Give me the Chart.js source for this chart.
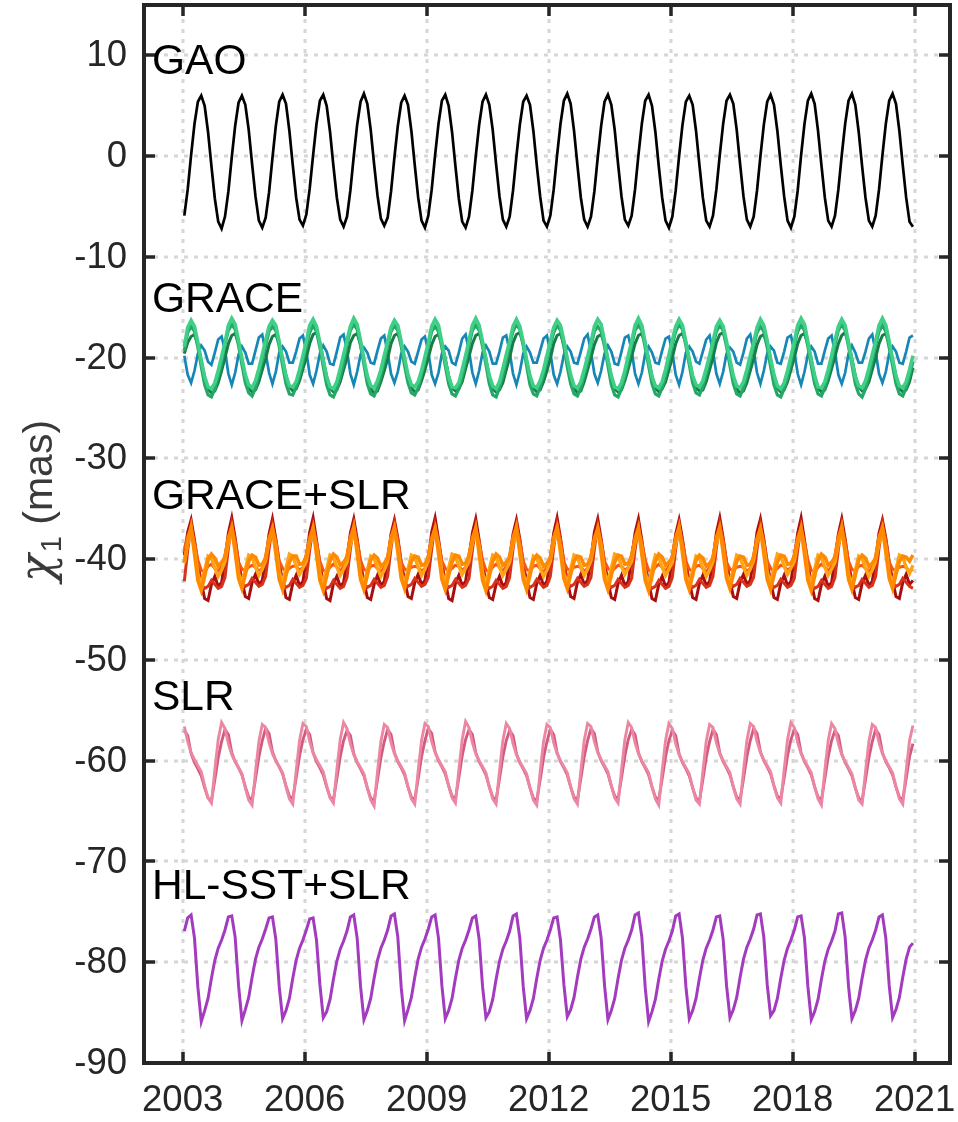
<!DOCTYPE html>
<html>
<head>
<meta charset="utf-8">
<script src="https://cdn.jsdelivr.net/npm/chart.js@4.4.1/dist/chart.umd.min.js"></script>
<style>
  html, body { margin: 0; padding: 0; background: #fff; }
  #wrap { width: 958px; height: 1122px; }
</style>
</head>
<body>
<div id="wrap"><canvas id="chi1" width="958" height="1122"></canvas></div>
<script>
// monthly values, one row per year (Jan..Dec), mas
var sampleYears = [2003, 2004, 2005, 2006, 2007, 2008, 2009, 2010, 2011, 2012,
                   2013, 2014, 2015, 2016, 2017, 2018, 2019, 2020];
var xTicks = [2003, 2006, 2009, 2012, 2015, 2018, 2021];
var yTicks = [-90, -80, -70, -60, -50, -40, -30, -20, -10, 0, 10];
var groupNames = ['GAO', 'GRACE', 'GRACE+SLR', 'SLR', 'HL-SST+SLR'];
var groupLabelY = [9.3, -14.3, -33.9, -53.8, -72.6];

var gao = [
  -5.9, -3.3, 0.1, 3.2, 5.4, 6.0, 5.0, 2.4, -1.0, -4.2, -6.5, -7.2,
  -6.0, -3.5, -0.1, 3.0, 5.3, 6.0, 5.1, 2.6, -0.8, -4.0, -6.4, -7.1,
  -6.1, -3.6, -0.2, 3.0, 5.4, 6.1, 5.2, 2.5, -0.9, -4.1, -6.3, -6.9,
  -5.8, -3.2, 0.1, 3.2, 5.5, 6.1, 5.0, 2.4, -1.0, -4.1, -6.3, -7.0,
  -6.0, -3.4, 0.0, 3.1, 5.4, 6.2, 5.2, 2.6, -0.8, -3.9, -6.2, -6.9,
  -6.1, -3.5, -0.1, 3.0, 5.3, 6.0, 5.1, 2.5, -0.9, -4.1, -6.4, -7.1,
  -5.9, -3.3, 0.1, 3.2, 5.5, 6.1, 5.0, 2.4, -1.0, -4.2, -6.5, -7.1,
  -6.0, -3.4, 0.0, 3.1, 5.4, 6.1, 5.1, 2.6, -0.8, -4.0, -6.3, -7.0,
  -6.0, -3.4, 0.0, 3.1, 5.4, 6.0, 5.1, 2.5, -0.9, -4.0, -6.4, -7.0,
  -5.9, -3.3, 0.1, 3.2, 5.5, 6.2, 5.2, 2.5, -0.9, -4.1, -6.3, -7.0,
  -6.0, -3.5, -0.1, 3.0, 5.4, 6.1, 5.1, 2.6, -0.8, -4.0, -6.3, -6.9,
  -5.9, -3.3, 0.1, 3.2, 5.5, 6.1, 5.0, 2.4, -1.0, -4.1, -6.4, -7.1,
  -6.0, -3.4, 0.0, 3.1, 5.4, 6.0, 5.1, 2.5, -0.9, -4.1, -6.4, -7.0,
  -5.9, -3.3, 0.1, 3.2, 5.5, 6.1, 5.2, 2.6, -0.8, -4.0, -6.3, -7.0,
  -6.0, -3.4, 0.0, 3.1, 5.4, 6.1, 5.1, 2.5, -0.9, -4.0, -6.4, -7.1,
  -6.0, -3.4, 0.1, 3.2, 5.5, 6.2, 5.2, 2.5, -0.9, -4.1, -6.4, -7.0,
  -5.9, -3.3, 0.1, 3.2, 5.5, 6.2, 5.1, 2.4, -1.0, -4.1, -6.4, -7.0,
  -5.9, -3.3, 0.1, 3.2, 5.5, 6.2, 5.2, 2.5, -0.9, -4.1, -6.5, -7.0
];

var graceBlue = [
  -19.8, -21.7, -22.5, -21.3, -19.6, -18.8, -19.3, -20.4, -20.7, -19.5, -18.2, -17.9,
  -19.3, -21.6, -22.7, -21.5, -19.7, -18.9, -19.5, -20.6, -20.6, -19.3, -18.0, -17.7,
  -19.5, -21.5, -22.6, -21.4, -19.5, -18.9, -19.4, -20.5, -20.5, -19.4, -18.1, -17.8,
  -19.4, -21.7, -22.6, -21.3, -19.6, -18.8, -19.4, -20.6, -20.7, -19.4, -18.0, -17.7,
  -19.3, -21.6, -22.7, -21.4, -19.7, -19.0, -19.5, -20.5, -20.6, -19.3, -18.1, -17.8,
  -19.5, -21.6, -22.5, -21.4, -19.6, -18.9, -19.4, -20.4, -20.6, -19.4, -18.2, -17.9,
  -19.4, -21.7, -22.6, -21.5, -19.6, -18.9, -19.3, -20.5, -20.7, -19.5, -18.1, -17.7,
  -19.3, -21.5, -22.6, -21.3, -19.5, -18.8, -19.4, -20.6, -20.6, -19.4, -18.0, -17.8,
  -19.4, -21.6, -22.7, -21.4, -19.6, -18.9, -19.5, -20.5, -20.5, -19.3, -18.1, -17.8,
  -19.5, -21.7, -22.6, -21.4, -19.7, -18.9, -19.4, -20.5, -20.6, -19.4, -18.1, -17.7,
  -19.4, -21.6, -22.5, -21.3, -19.6, -18.8, -19.4, -20.6, -20.7, -19.4, -18.0, -17.8,
  -19.3, -21.6, -22.6, -21.5, -19.6, -18.9, -19.5, -20.5, -20.6, -19.3, -18.1, -17.9,
  -19.5, -21.7, -22.7, -21.4, -19.5, -18.9, -19.4, -20.4, -20.6, -19.4, -18.2, -17.8,
  -19.4, -21.6, -22.6, -21.4, -19.6, -19.0, -19.4, -20.5, -20.7, -19.5, -18.1, -17.7,
  -19.3, -21.5, -22.6, -21.3, -19.6, -18.9, -19.3, -20.5, -20.6, -19.4, -18.0, -17.8,
  -19.4, -21.6, -22.7, -21.4, -19.7, -18.9, -19.4, -20.6, -20.6, -19.3, -18.1, -17.8,
  -19.5, -21.7, -22.6, -21.5, -19.6, -18.8, -19.5, -20.5, -20.5, -19.4, -18.1, -17.7,
  -19.4, -21.6, -22.5, -21.4, -19.6, -18.9, -19.4, -20.5, -20.6, -19.4, -18.0, -17.8
];

var graceGreenLight = [
  -18.9, -17.0, -16.3, -16.9, -18.5, -20.3, -21.9, -22.9, -23.1, -22.5, -21.3, -19.9,
  -18.5, -16.8, -16.1, -16.7, -18.3, -20.1, -21.7, -22.7, -23.0, -22.3, -21.1, -19.7,
  -18.3, -16.9, -16.3, -16.8, -18.4, -20.2, -21.8, -22.8, -22.9, -22.4, -21.2, -19.8,
  -18.4, -16.8, -16.2, -16.9, -18.5, -20.3, -21.9, -22.9, -23.1, -22.4, -21.1, -19.7,
  -18.3, -16.9, -16.1, -16.7, -18.3, -20.2, -21.8, -22.8, -23.0, -22.3, -21.2, -19.8,
  -18.4, -17.0, -16.3, -16.8, -18.4, -20.1, -21.7, -22.7, -22.9, -22.4, -21.3, -19.9,
  -18.5, -16.9, -16.2, -16.8, -18.5, -20.3, -21.9, -22.9, -23.0, -22.5, -21.2, -19.8,
  -18.3, -16.8, -16.1, -16.8, -18.4, -20.2, -21.8, -22.8, -23.1, -22.4, -21.1, -19.7,
  -18.4, -16.9, -16.2, -16.9, -18.4, -20.2, -21.8, -22.8, -23.0, -22.3, -21.2, -19.8,
  -18.4, -17.0, -16.3, -16.8, -18.3, -20.1, -21.7, -22.8, -23.0, -22.4, -21.2, -19.9,
  -18.5, -16.9, -16.2, -16.7, -18.4, -20.2, -21.8, -22.9, -23.1, -22.5, -21.3, -19.8,
  -18.4, -16.8, -16.1, -16.8, -18.5, -20.3, -21.9, -22.8, -23.0, -22.4, -21.2, -19.7,
  -18.3, -16.9, -16.2, -16.8, -18.4, -20.2, -21.8, -22.7, -22.9, -22.3, -21.1, -19.8,
  -18.4, -16.9, -16.3, -16.9, -18.4, -20.2, -21.8, -22.8, -23.0, -22.4, -21.2, -19.8,
  -18.5, -17.0, -16.2, -16.8, -18.3, -20.1, -21.7, -22.8, -23.1, -22.5, -21.3, -19.9,
  -18.4, -16.8, -16.1, -16.7, -18.4, -20.2, -21.8, -22.9, -23.0, -22.4, -21.2, -19.8,
  -18.3, -16.9, -16.2, -16.8, -18.5, -20.3, -21.9, -22.8, -23.0, -22.3, -21.1, -19.7,
  -18.4, -16.8, -16.1, -16.8, -18.4, -20.2, -21.8, -22.8, -23.0, -22.4, -21.2, -19.8
];

var graceGreenMid = [
  -19.3, -17.5, -16.9, -17.4, -19.0, -20.9, -22.7, -23.7, -23.9, -23.1, -21.9, -20.5,
  -18.7, -17.3, -16.7, -17.2, -18.8, -20.7, -22.5, -23.5, -23.8, -23.0, -21.7, -20.3,
  -18.8, -17.4, -16.9, -17.3, -18.9, -20.8, -22.6, -23.6, -23.7, -22.9, -21.8, -20.4,
  -18.9, -17.5, -16.8, -17.4, -19.0, -20.9, -22.7, -23.7, -23.9, -23.1, -21.9, -20.5,
  -18.7, -17.3, -16.7, -17.2, -18.8, -20.7, -22.6, -23.6, -23.8, -23.0, -21.8, -20.4,
  -18.8, -17.4, -16.8, -17.3, -18.9, -20.8, -22.5, -23.5, -23.7, -23.0, -21.7, -20.3,
  -18.9, -17.4, -16.9, -17.4, -19.0, -20.8, -22.6, -23.6, -23.8, -23.1, -21.9, -20.4,
  -18.8, -17.3, -16.8, -17.3, -18.9, -20.7, -22.6, -23.7, -23.9, -23.0, -21.8, -20.4,
  -18.7, -17.4, -16.7, -17.2, -18.8, -20.8, -22.7, -23.6, -23.8, -22.9, -21.7, -20.3,
  -18.8, -17.5, -16.8, -17.3, -18.9, -20.9, -22.6, -23.6, -23.8, -23.0, -21.8, -20.5,
  -18.9, -17.4, -16.9, -17.4, -18.9, -20.8, -22.7, -23.7, -23.9, -23.1, -21.9, -20.4,
  -18.8, -17.3, -16.8, -17.3, -19.0, -20.8, -22.6, -23.6, -23.8, -23.0, -21.8, -20.4,
  -18.7, -17.4, -16.7, -17.2, -18.8, -20.7, -22.5, -23.5, -23.7, -22.9, -21.7, -20.3,
  -18.8, -17.4, -16.8, -17.3, -18.9, -20.8, -22.6, -23.6, -23.8, -23.0, -21.8, -20.4,
  -18.9, -17.5, -16.9, -17.4, -19.0, -20.9, -22.7, -23.7, -23.9, -23.1, -21.9, -20.5,
  -18.8, -17.4, -16.8, -17.3, -18.9, -20.8, -22.6, -23.6, -23.8, -23.0, -21.8, -20.4,
  -18.7, -17.3, -16.7, -17.3, -18.9, -20.7, -22.6, -23.6, -23.9, -23.1, -21.8, -20.3,
  -18.8, -17.4, -16.8, -17.4, -19.0, -20.8, -22.6, -23.6, -23.8, -23.0, -21.8, -20.4
];

var graceGreenDark = [
  -19.6, -18.5, -17.9, -17.7, -18.7, -20.3, -22.0, -23.1, -23.5, -23.3, -22.5, -21.3,
  -20.0, -18.6, -17.8, -17.6, -18.6, -20.2, -21.9, -23.0, -23.4, -23.2, -22.4, -21.2,
  -20.1, -18.7, -17.9, -17.7, -18.6, -20.1, -21.8, -22.9, -23.3, -23.1, -22.3, -21.1,
  -20.0, -18.6, -17.7, -17.5, -18.5, -20.2, -21.9, -23.0, -23.4, -23.2, -22.4, -21.2,
  -20.0, -18.5, -17.8, -17.6, -18.7, -20.3, -22.0, -23.1, -23.5, -23.3, -22.4, -21.3,
  -20.1, -18.6, -17.8, -17.6, -18.6, -20.2, -21.9, -23.0, -23.4, -23.2, -22.3, -21.2,
  -20.0, -18.7, -17.9, -17.7, -18.6, -20.1, -21.8, -23.0, -23.3, -23.1, -22.4, -21.1,
  -19.9, -18.6, -17.8, -17.6, -18.5, -20.2, -21.9, -23.1, -23.4, -23.2, -22.5, -21.2,
  -20.0, -18.5, -17.7, -17.5, -18.6, -20.3, -22.0, -23.0, -23.4, -23.2, -22.4, -21.3,
  -20.1, -18.6, -17.8, -17.6, -18.7, -20.2, -21.9, -23.0, -23.5, -23.3, -22.4, -21.2,
  -20.0, -18.7, -17.9, -17.7, -18.6, -20.2, -21.9, -23.1, -23.4, -23.2, -22.3, -21.1,
  -19.9, -18.6, -17.8, -17.6, -18.6, -20.1, -21.8, -23.0, -23.4, -23.1, -22.4, -21.2,
  -20.0, -18.6, -17.8, -17.6, -18.5, -20.2, -21.9, -23.0, -23.3, -23.2, -22.4, -21.2,
  -20.0, -18.5, -17.7, -17.5, -18.6, -20.3, -22.0, -23.1, -23.5, -23.3, -22.5, -21.3,
  -20.1, -18.7, -17.9, -17.7, -18.7, -20.2, -21.9, -23.0, -23.4, -23.2, -22.4, -21.2,
  -20.0, -18.6, -17.8, -17.6, -18.6, -20.2, -21.9, -23.0, -23.4, -23.2, -22.3, -21.1,
  -19.9, -18.6, -17.8, -17.5, -18.5, -20.1, -21.8, -22.9, -23.3, -23.1, -22.4, -21.2,
  -20.0, -18.6, -17.8, -17.6, -18.6, -20.2, -21.9, -23.0, -23.4, -23.2, -22.4, -21.0
];

var gslrDarkRed = [
  -39.6, -37.3, -36.1, -38.1, -40.5, -42.3, -43.9, -44.1, -42.5, -41.7, -42.7, -42.3,
  -40.0, -37.4, -35.9, -37.9, -40.3, -42.1, -43.7, -43.9, -42.3, -41.5, -42.5, -42.1,
  -40.1, -37.5, -36.0, -38.0, -40.4, -42.2, -43.8, -44.0, -42.4, -41.6, -42.6, -42.2,
  -39.9, -37.3, -35.9, -38.1, -40.5, -42.3, -43.9, -44.1, -42.4, -41.7, -42.7, -42.3,
  -40.0, -37.4, -36.0, -38.0, -40.4, -42.2, -43.8, -44.0, -42.5, -41.6, -42.6, -42.2,
  -40.1, -37.5, -36.1, -37.9, -40.3, -42.1, -43.7, -43.9, -42.3, -41.5, -42.5, -42.1,
  -40.0, -37.3, -35.9, -38.0, -40.4, -42.2, -43.9, -44.1, -42.4, -41.6, -42.6, -42.2,
  -39.9, -37.4, -36.0, -38.1, -40.5, -42.3, -43.8, -44.0, -42.5, -41.7, -42.7, -42.3,
  -40.0, -37.5, -36.1, -38.0, -40.4, -42.2, -43.8, -44.0, -42.4, -41.6, -42.6, -42.2,
  -40.1, -37.4, -35.9, -37.9, -40.3, -42.1, -43.7, -43.9, -42.3, -41.5, -42.5, -42.1,
  -40.0, -37.3, -36.0, -38.0, -40.4, -42.2, -43.8, -44.0, -42.4, -41.6, -42.6, -42.2,
  -39.9, -37.4, -36.0, -38.1, -40.5, -42.3, -43.9, -44.1, -42.5, -41.7, -42.7, -42.3,
  -40.0, -37.5, -36.1, -38.0, -40.4, -42.2, -43.8, -44.0, -42.4, -41.6, -42.6, -42.2,
  -40.1, -37.4, -35.9, -37.9, -40.3, -42.1, -43.7, -43.9, -42.3, -41.5, -42.5, -42.1,
  -40.0, -37.3, -36.0, -38.0, -40.4, -42.2, -43.8, -44.0, -42.4, -41.6, -42.6, -42.2,
  -39.9, -37.4, -35.9, -38.1, -40.5, -42.3, -43.9, -44.1, -42.5, -41.7, -42.7, -42.3,
  -40.0, -37.5, -36.0, -38.0, -40.4, -42.2, -43.8, -44.0, -42.4, -41.6, -42.6, -42.2,
  -40.1, -37.4, -36.1, -37.9, -40.3, -42.1, -43.7, -43.9, -42.3, -41.5, -42.5, -42.1
];

var gslrRed = [
  -42.2, -39.1, -36.7, -38.5, -40.9, -42.5, -42.9, -42.7, -42.1, -42.5, -42.9, -42.7,
  -41.8, -38.9, -36.5, -38.3, -40.7, -42.3, -42.7, -42.5, -41.9, -42.3, -42.7, -42.5,
  -41.7, -39.0, -36.6, -38.4, -40.8, -42.4, -42.8, -42.6, -42.0, -42.4, -42.8, -42.6,
  -41.9, -39.1, -36.7, -38.5, -40.9, -42.5, -42.9, -42.7, -42.1, -42.5, -42.9, -42.7,
  -41.8, -39.0, -36.6, -38.4, -40.8, -42.4, -42.8, -42.6, -42.0, -42.4, -42.8, -42.6,
  -41.7, -38.9, -36.5, -38.3, -40.7, -42.3, -42.7, -42.5, -41.9, -42.3, -42.7, -42.5,
  -41.8, -39.0, -36.6, -38.4, -40.8, -42.4, -42.8, -42.6, -42.0, -42.4, -42.8, -42.6,
  -41.9, -39.1, -36.7, -38.5, -40.9, -42.5, -42.9, -42.7, -42.1, -42.5, -42.9, -42.7,
  -41.8, -39.0, -36.6, -38.4, -40.8, -42.4, -42.8, -42.6, -42.0, -42.4, -42.8, -42.6,
  -41.7, -38.9, -36.5, -38.3, -40.7, -42.3, -42.7, -42.5, -41.9, -42.3, -42.7, -42.5,
  -41.8, -39.0, -36.6, -38.4, -40.8, -42.4, -42.8, -42.6, -42.0, -42.4, -42.8, -42.6,
  -41.9, -39.1, -36.7, -38.5, -40.9, -42.5, -42.9, -42.7, -42.1, -42.5, -42.9, -42.7,
  -41.8, -39.0, -36.6, -38.4, -40.8, -42.4, -42.8, -42.6, -42.0, -42.4, -42.8, -42.6,
  -41.7, -38.9, -36.5, -38.3, -40.7, -42.3, -42.7, -42.5, -41.9, -42.3, -42.7, -42.5,
  -41.8, -39.0, -36.6, -38.4, -40.8, -42.4, -42.8, -42.6, -42.0, -42.4, -42.8, -42.6,
  -41.9, -39.1, -36.7, -38.5, -40.9, -42.5, -42.9, -42.7, -42.1, -42.5, -42.9, -42.7,
  -41.8, -39.0, -36.6, -38.4, -40.8, -42.4, -42.8, -42.6, -42.0, -42.4, -42.8, -42.6,
  -41.7, -38.9, -36.5, -38.3, -40.7, -42.3, -42.7, -42.5, -41.9, -42.3, -42.7, -42.9
];

var gslrOrangeRed = [
  -39.0, -37.7, -36.9, -38.3, -40.1, -41.1, -41.3, -40.7, -40.5, -40.9, -41.3, -40.7,
  -39.6, -37.8, -36.7, -38.2, -40.3, -41.0, -41.1, -40.8, -40.6, -40.8, -41.2, -40.9,
  -39.7, -37.9, -36.8, -38.1, -40.2, -40.9, -41.2, -40.9, -40.7, -40.7, -41.1, -40.8,
  -39.5, -37.8, -36.9, -38.3, -40.2, -41.1, -41.3, -40.8, -40.5, -40.8, -41.2, -40.7,
  -39.6, -37.7, -36.8, -38.2, -40.1, -41.0, -41.2, -40.7, -40.6, -40.9, -41.3, -40.8,
  -39.7, -37.8, -36.7, -38.1, -40.3, -41.0, -41.1, -40.8, -40.7, -40.8, -41.2, -40.9,
  -39.6, -37.9, -36.8, -38.2, -40.2, -40.9, -41.2, -40.9, -40.6, -40.7, -41.1, -40.8,
  -39.5, -37.8, -36.9, -38.3, -40.1, -41.1, -41.3, -40.8, -40.5, -40.8, -41.2, -40.7,
  -39.6, -37.7, -36.8, -38.2, -40.2, -41.0, -41.2, -40.7, -40.6, -40.9, -41.3, -40.8,
  -39.7, -37.8, -36.7, -38.1, -40.3, -41.0, -41.1, -40.8, -40.7, -40.8, -41.2, -40.9,
  -39.6, -37.9, -36.8, -38.2, -40.2, -40.9, -41.2, -40.9, -40.6, -40.7, -41.1, -40.8,
  -39.5, -37.8, -36.9, -38.3, -40.1, -41.1, -41.3, -40.8, -40.5, -40.8, -41.2, -40.7,
  -39.6, -37.7, -36.8, -38.2, -40.2, -41.0, -41.2, -40.7, -40.6, -40.9, -41.3, -40.8,
  -39.7, -37.8, -36.7, -38.1, -40.3, -41.0, -41.1, -40.8, -40.7, -40.8, -41.2, -40.9,
  -39.6, -37.9, -36.8, -38.2, -40.2, -40.9, -41.2, -40.9, -40.6, -40.7, -41.1, -40.8,
  -39.5, -37.8, -36.9, -38.3, -40.1, -41.1, -41.3, -40.8, -40.5, -40.8, -41.2, -40.7,
  -39.6, -37.7, -36.8, -38.2, -40.2, -41.0, -41.2, -40.7, -40.6, -40.9, -41.3, -40.8,
  -39.7, -37.8, -36.7, -38.1, -40.3, -41.0, -41.1, -40.8, -40.7, -40.8, -41.2, -41.0
];

var gslrOrange = [
  -40.3, -38.1, -36.8, -39.5, -42.1, -43.1, -41.7, -40.1, -39.5, -39.9, -40.7, -40.3,
  -39.8, -37.9, -36.9, -39.3, -41.9, -42.9, -41.5, -40.2, -39.6, -39.8, -40.6, -40.5,
  -39.9, -38.0, -37.0, -39.4, -42.0, -43.0, -41.6, -40.3, -39.7, -39.7, -40.5, -40.4,
  -39.7, -38.1, -36.9, -39.5, -42.1, -43.1, -41.7, -40.2, -39.5, -39.8, -40.6, -40.3,
  -39.8, -38.0, -36.8, -39.4, -42.0, -43.0, -41.6, -40.1, -39.6, -39.9, -40.7, -40.4,
  -39.9, -37.9, -36.9, -39.3, -41.9, -42.9, -41.5, -40.2, -39.7, -39.8, -40.6, -40.5,
  -39.8, -38.0, -37.0, -39.4, -42.0, -43.0, -41.6, -40.3, -39.6, -39.7, -40.5, -40.4,
  -39.7, -38.1, -36.9, -39.5, -42.1, -43.1, -41.7, -40.2, -39.5, -39.8, -40.6, -40.3,
  -39.8, -38.0, -36.8, -39.4, -42.0, -43.0, -41.6, -40.1, -39.6, -39.9, -40.7, -40.4,
  -39.9, -37.9, -36.9, -39.3, -41.9, -42.9, -41.5, -40.2, -39.7, -39.8, -40.6, -40.5,
  -39.8, -38.0, -37.0, -39.4, -42.0, -43.0, -41.6, -40.3, -39.6, -39.7, -40.5, -40.4,
  -39.7, -38.1, -36.9, -39.5, -42.1, -43.1, -41.7, -40.2, -39.5, -39.8, -40.6, -40.3,
  -39.8, -38.0, -36.8, -39.4, -42.0, -43.0, -41.6, -40.1, -39.6, -39.9, -40.7, -40.4,
  -39.9, -37.9, -36.9, -39.3, -41.9, -42.9, -41.5, -40.2, -39.7, -39.8, -40.6, -40.5,
  -39.8, -38.0, -37.0, -39.4, -42.0, -43.0, -41.6, -40.3, -39.6, -39.7, -40.5, -40.4,
  -39.7, -38.1, -36.9, -39.5, -42.1, -43.1, -41.7, -40.2, -39.5, -39.8, -40.6, -40.3,
  -39.8, -38.0, -36.8, -39.4, -42.0, -43.0, -41.6, -40.1, -39.6, -39.9, -40.7, -40.4,
  -39.9, -37.9, -36.9, -39.3, -41.9, -42.9, -41.5, -40.2, -39.7, -39.8, -40.2, -39.6
];

var gslrAmber = [
  -40.4, -38.5, -37.3, -38.9, -41.5, -42.5, -41.1, -39.7, -39.9, -40.9, -41.7, -41.1,
  -40.2, -38.4, -37.2, -38.8, -41.4, -42.4, -41.0, -39.6, -39.8, -40.8, -41.6, -41.0,
  -40.1, -38.3, -37.1, -38.7, -41.3, -42.3, -40.9, -39.5, -39.7, -40.7, -41.5, -40.9,
  -40.2, -38.4, -37.2, -38.8, -41.4, -42.4, -41.0, -39.6, -39.8, -40.8, -41.6, -41.0,
  -40.3, -38.5, -37.3, -38.9, -41.5, -42.5, -41.1, -39.7, -39.9, -40.9, -41.7, -41.1,
  -40.2, -38.4, -37.2, -38.8, -41.4, -42.4, -41.0, -39.6, -39.8, -40.8, -41.6, -41.0,
  -40.1, -38.3, -37.1, -38.7, -41.3, -42.3, -40.9, -39.5, -39.7, -40.7, -41.5, -40.9,
  -40.2, -38.4, -37.2, -38.8, -41.4, -42.4, -41.0, -39.6, -39.8, -40.8, -41.6, -41.0,
  -40.3, -38.5, -37.3, -38.9, -41.5, -42.5, -41.1, -39.7, -39.9, -40.9, -41.7, -41.1,
  -40.2, -38.4, -37.2, -38.8, -41.4, -42.4, -41.0, -39.6, -39.8, -40.8, -41.6, -41.0,
  -40.1, -38.3, -37.1, -38.7, -41.3, -42.3, -40.9, -39.5, -39.7, -40.7, -41.5, -40.9,
  -40.2, -38.4, -37.2, -38.8, -41.4, -42.4, -41.0, -39.6, -39.8, -40.8, -41.6, -41.0,
  -40.3, -38.5, -37.3, -38.9, -41.5, -42.5, -41.1, -39.7, -39.9, -40.9, -41.7, -41.1,
  -40.2, -38.4, -37.2, -38.8, -41.4, -42.4, -41.0, -39.6, -39.8, -40.8, -41.6, -41.0,
  -40.1, -38.3, -37.1, -38.7, -41.3, -42.3, -40.9, -39.5, -39.7, -40.7, -41.5, -40.9,
  -40.2, -38.4, -37.2, -38.8, -41.4, -42.4, -41.0, -39.6, -39.8, -40.8, -41.6, -41.0,
  -40.3, -38.5, -37.3, -38.9, -41.5, -42.5, -41.1, -39.7, -39.9, -40.9, -41.7, -41.1,
  -40.2, -38.4, -37.2, -38.8, -41.4, -42.4, -41.0, -39.6, -39.8, -40.8, -41.4, -40.6
];

var slrLight = [
  -56.6, -58.1, -59.2, -59.9, -60.5, -61.1, -62.5, -63.7, -64.2, -60.9, -57.9, -56.2,
  -56.8, -58.3, -59.4, -60.1, -60.7, -61.3, -62.7, -63.9, -64.4, -61.1, -58.1, -56.4,
  -56.7, -58.2, -59.3, -60.0, -60.6, -61.2, -62.6, -63.8, -64.3, -61.0, -58.0, -56.3,
  -56.6, -58.1, -59.2, -59.9, -60.5, -61.1, -62.5, -63.7, -64.2, -60.9, -57.9, -56.2,
  -56.8, -58.3, -59.4, -60.1, -60.7, -61.3, -62.7, -63.9, -64.5, -61.1, -58.1, -56.4,
  -56.7, -58.2, -59.3, -60.0, -60.6, -61.2, -62.6, -63.8, -64.3, -61.0, -58.0, -56.3,
  -56.6, -58.1, -59.2, -59.9, -60.5, -61.1, -62.5, -63.7, -64.2, -60.9, -57.9, -56.1,
  -56.7, -58.2, -59.3, -60.0, -60.6, -61.2, -62.6, -63.8, -64.3, -61.0, -58.0, -56.3,
  -56.8, -58.3, -59.4, -60.1, -60.7, -61.3, -62.7, -63.9, -64.4, -61.1, -58.1, -56.4,
  -56.7, -58.2, -59.3, -60.0, -60.6, -61.2, -62.6, -63.8, -64.3, -61.0, -58.0, -56.3,
  -56.6, -58.1, -59.2, -59.9, -60.5, -61.1, -62.5, -63.7, -64.2, -60.9, -57.9, -56.2,
  -56.7, -58.2, -59.3, -60.0, -60.6, -61.2, -62.6, -63.8, -64.4, -61.0, -58.0, -56.3,
  -56.8, -58.3, -59.4, -60.1, -60.7, -61.3, -62.7, -63.9, -64.3, -61.1, -58.1, -56.4,
  -56.7, -58.2, -59.3, -60.0, -60.6, -61.2, -62.6, -63.8, -64.3, -61.0, -58.0, -56.3,
  -56.6, -58.1, -59.2, -59.9, -60.5, -61.1, -62.5, -63.7, -64.2, -60.9, -57.9, -56.2,
  -56.7, -58.2, -59.3, -60.0, -60.6, -61.2, -62.6, -63.8, -64.4, -61.0, -58.0, -56.3,
  -56.8, -58.3, -59.4, -60.1, -60.7, -61.3, -62.7, -63.9, -64.3, -61.1, -58.1, -56.4,
  -56.7, -58.2, -59.3, -60.0, -60.6, -61.2, -62.6, -63.8, -64.3, -61.0, -58.0, -56.5
];

var slrDark = [
  -57.0, -57.5, -59.3, -60.2, -60.8, -61.5, -62.7, -63.7, -64.0, -61.9, -59.7, -58.1,
  -56.9, -57.4, -59.2, -60.1, -60.7, -61.4, -62.6, -63.6, -63.9, -61.8, -59.6, -58.0,
  -56.8, -57.3, -59.1, -60.0, -60.6, -61.3, -62.5, -63.5, -63.8, -61.7, -59.5, -57.9,
  -56.9, -57.4, -59.2, -60.1, -60.7, -61.4, -62.6, -63.6, -63.9, -61.8, -59.6, -58.0,
  -57.0, -57.5, -59.3, -60.2, -60.8, -61.5, -62.7, -63.7, -64.0, -61.9, -59.7, -58.1,
  -56.9, -57.4, -59.2, -60.1, -60.7, -61.4, -62.6, -63.6, -63.9, -61.8, -59.6, -58.0,
  -56.8, -57.3, -59.1, -60.0, -60.6, -61.3, -62.5, -63.5, -63.8, -61.7, -59.5, -57.9,
  -56.9, -57.4, -59.2, -60.1, -60.7, -61.4, -62.6, -63.6, -63.9, -61.8, -59.6, -58.0,
  -57.0, -57.5, -59.3, -60.2, -60.8, -61.5, -62.7, -63.7, -64.0, -61.9, -59.7, -58.1,
  -56.9, -57.4, -59.2, -60.1, -60.7, -61.4, -62.6, -63.6, -63.9, -61.8, -59.6, -58.0,
  -56.8, -57.3, -59.1, -60.0, -60.6, -61.3, -62.5, -63.5, -63.8, -61.7, -59.5, -57.9,
  -56.9, -57.4, -59.2, -60.1, -60.7, -61.4, -62.6, -63.6, -63.9, -61.8, -59.6, -58.0,
  -57.0, -57.5, -59.3, -60.2, -60.8, -61.5, -62.7, -63.7, -64.0, -61.9, -59.7, -58.1,
  -56.9, -57.4, -59.2, -60.1, -60.7, -61.4, -62.6, -63.6, -63.9, -61.8, -59.6, -58.0,
  -56.8, -57.3, -59.1, -60.0, -60.6, -61.3, -62.5, -63.5, -63.8, -61.7, -59.5, -57.9,
  -56.9, -57.4, -59.2, -60.1, -60.7, -61.4, -62.6, -63.6, -63.9, -61.8, -59.6, -58.0,
  -57.0, -57.5, -59.3, -60.2, -60.8, -61.5, -62.7, -63.7, -64.0, -61.9, -59.7, -58.1,
  -56.9, -57.4, -59.2, -60.1, -60.7, -61.4, -62.6, -63.6, -63.9, -61.8, -59.6, -58.3
];

var hlSstSlr = [
  -76.9, -75.6, -75.3, -77.6, -82.5, -85.9, -84.8, -83.6, -81.6, -79.8, -78.6, -77.8,
  -76.8, -75.5, -75.4, -77.5, -82.3, -85.8, -84.7, -83.5, -81.5, -79.7, -78.5, -77.7,
  -76.7, -75.6, -75.5, -77.7, -82.4, -85.6, -84.8, -83.6, -81.6, -79.8, -78.6, -77.8,
  -76.8, -75.7, -75.6, -77.8, -82.2, -85.5, -84.9, -83.7, -81.7, -79.9, -78.7, -77.9,
  -76.9, -75.5, -75.3, -77.6, -82.4, -85.7, -84.8, -83.6, -81.6, -79.8, -78.6, -77.8,
  -76.8, -75.4, -75.2, -77.5, -82.5, -85.8, -84.7, -83.5, -81.5, -79.7, -78.5, -77.7,
  -76.7, -75.5, -75.3, -77.6, -82.3, -85.6, -84.8, -83.6, -81.6, -79.8, -78.6, -77.8,
  -76.8, -75.6, -75.4, -77.7, -82.4, -85.5, -84.9, -83.7, -81.7, -79.9, -78.7, -77.9,
  -76.9, -75.4, -75.2, -77.6, -82.4, -85.6, -84.8, -83.6, -81.6, -79.8, -78.6, -77.8,
  -76.8, -75.6, -75.5, -77.8, -82.2, -85.4, -84.7, -83.5, -81.5, -79.7, -78.5, -77.7,
  -76.7, -75.5, -75.3, -77.6, -82.3, -85.7, -84.8, -83.6, -81.6, -79.8, -78.6, -77.8,
  -76.8, -75.3, -75.1, -77.5, -82.5, -85.9, -84.9, -83.7, -81.7, -79.9, -78.7, -77.9,
  -76.9, -75.4, -75.2, -77.6, -82.4, -85.6, -84.8, -83.6, -81.6, -79.8, -78.6, -77.8,
  -76.8, -75.5, -75.4, -77.7, -82.3, -85.5, -84.7, -83.5, -81.5, -79.7, -78.5, -77.7,
  -76.7, -75.3, -75.2, -77.5, -82.2, -85.3, -84.8, -83.6, -81.6, -79.8, -78.6, -77.8,
  -76.8, -75.5, -75.4, -77.6, -82.4, -85.7, -84.9, -83.7, -81.7, -79.9, -78.7, -77.9,
  -76.9, -75.2, -75.1, -77.5, -82.4, -85.6, -84.8, -83.6, -81.6, -79.8, -78.6, -77.8,
  -76.8, -75.5, -75.3, -77.6, -82.3, -85.5, -84.7, -83.5, -81.5, -79.7, -78.5, -78.1
];

var FONT = "'Liberation Sans', Arial, Helvetica, sans-serif";
var INK = '#262626';

function monthly(values) {
  return values.map(function (v, i) {
    return { x: sampleYears[Math.floor(i / 12)] + (i % 12 + 0.5) / 12, y: v };
  });
}

function line(values, color, width) {
  return {
    data: monthly(values),
    borderColor: color,
    borderWidth: width,
    pointRadius: 0,
    fill: false,
    tension: 0
  };
}

// listed bottom to top
var series = [
  line(gao, '#000000', 2.7),
  line(graceBlue, '#1586b6', 2.7),
  line(graceGreenDark, '#157d48', 3.0),
  line(graceGreenMid, '#25a765', 3.2),
  line(graceGreenLight, '#3fcf87', 3.6),
  line(gslrDarkRed, '#a80e0e', 3.0),
  line(gslrRed, '#d8311c', 3.0),
  line(gslrOrangeRed, '#f65514', 3.0),
  line(gslrAmber, '#ffa414', 3.4),
  line(gslrOrange, '#ff8a00', 3.6),
  line(slrDark, '#d35a7f', 2.9),
  line(slrLight, '#ec87a3', 2.9),
  line(hlSstSlr, '#a33bbf', 3.0)
];
series.forEach(function (d, i) { d.order = series.length - i; });

var axesBox = {
  id: 'axesBox',
  beforeDatasetsDraw: function (chart) {
    var a = chart.chartArea, xs = chart.scales.x, ys = chart.scales.y, c = chart.ctx;
    c.save();
    c.strokeStyle = '#d6d6d6';
    c.lineWidth = 3;
    c.setLineDash([4, 6]);
    xTicks.forEach(function (v) {
      var p = Math.round(xs.getPixelForValue(v));
      c.beginPath(); c.moveTo(p, a.bottom); c.lineTo(p, a.top); c.stroke();
    });
    yTicks.forEach(function (v) {
      var p = Math.round(ys.getPixelForValue(v));
      c.beginPath(); c.moveTo(a.left, p); c.lineTo(a.right, p); c.stroke();
    });
    c.restore();
  },
  afterDatasetsDraw: function (chart) {
    var a = chart.chartArea, xs = chart.scales.x, ys = chart.scales.y, c = chart.ctx;
    var tick = 11;
    c.save();
    c.strokeStyle = INK;
    c.lineWidth = 3.5;
    c.setLineDash([]);
    xTicks.forEach(function (v) {
      var p = Math.round(xs.getPixelForValue(v));
      c.beginPath(); c.moveTo(p, a.bottom); c.lineTo(p, a.bottom - tick); c.stroke();
      c.beginPath(); c.moveTo(p, a.top); c.lineTo(p, a.top + tick); c.stroke();
    });
    yTicks.forEach(function (v) {
      var p = Math.round(ys.getPixelForValue(v));
      c.beginPath(); c.moveTo(a.left, p); c.lineTo(a.left + tick, p); c.stroke();
      c.beginPath(); c.moveTo(a.right, p); c.lineTo(a.right - tick, p); c.stroke();
    });
    c.lineWidth = 4;
    c.strokeRect(a.left, a.top, a.right - a.left, a.bottom - a.top);

    // tick labels
    c.fillStyle = INK;
    c.font = '36.5px ' + FONT;
    c.textBaseline = 'middle';
    c.textAlign = 'center';
    xTicks.forEach(function (v) {
      c.fillText(String(v), xs.getPixelForValue(v), a.bottom + 38);
    });
    c.textAlign = 'right';
    yTicks.forEach(function (v) {
      c.fillText(String(v), a.left - 17, ys.getPixelForValue(v) + 1);
    });

    // group names
    c.fillStyle = '#000';
    c.font = '42.5px ' + FONT;
    c.textAlign = 'left';
    groupNames.forEach(function (name, i) {
      c.fillText(name, a.left + 8, ys.getPixelForValue(groupLabelY[i]));
    });
    c.restore();
  },
  afterDraw: function (chart) {
    // y title: chi with subscript 1, then unit
    var c = chart.ctx;
    var chiFont = 'italic 46px "DejaVu Serif", "Liberation Serif", serif';
    var subFont = '29px ' + FONT;
    var unitFont = '41px ' + FONT;
    c.save();
    c.font = chiFont; var wChi = c.measureText('\u03c7').width;
    c.font = subFont; var wSub = c.measureText('1').width;
    c.font = unitFont; var wUnit = c.measureText(' (mas)').width;
    var total = wChi + 2 + wSub + wUnit;
    c.translate(52, 501);
    c.rotate(-Math.PI / 2);
    c.fillStyle = '#3a3a3a';
    c.textBaseline = 'alphabetic';
    c.textAlign = 'left';
    var x = -total / 2;
    c.font = chiFont; c.fillText('\u03c7', x, 0); x += wChi + 2;
    c.font = subFont; c.fillText('1', x, 9); x += wSub;
    c.font = unitFont; c.fillText(' (mas)', x, 0);
    c.restore();
  }
};

var chart = new Chart(document.getElementById('chi1'), {
  type: 'line',
  data: { datasets: series },
  options: {
    responsive: false,
    animation: false,
    devicePixelRatio: 1,
    parsing: false,
    normalized: true,
    layout: { padding: { left: 144, right: 8, top: 5, bottom: 59 } },
    plugins: { legend: { display: false }, tooltip: { enabled: false } },
    scales: {
      x: { type: 'linear', display: false, min: 2002.05, max: 2021.87 },
      y: { type: 'linear', display: false, min: -90, max: 15 }
    }
  },
  plugins: [axesBox]
});
</script>
</body>
</html>
